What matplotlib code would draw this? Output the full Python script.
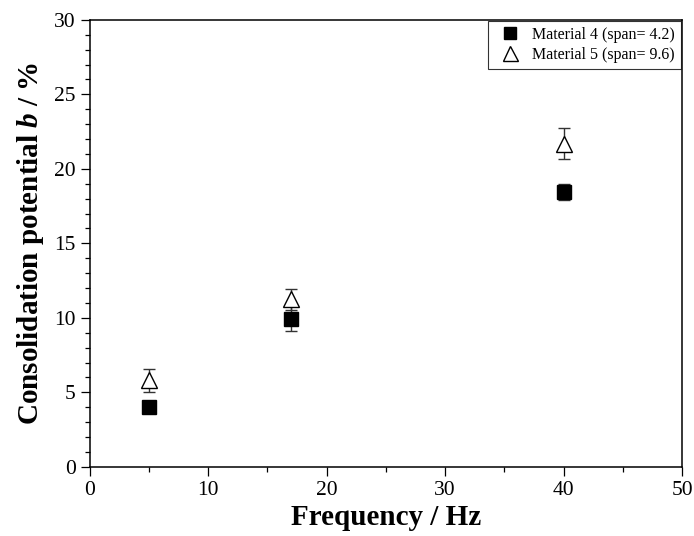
import numpy as np
import matplotlib.pyplot as plt
from matplotlib.ticker import MultipleLocator

plt.rcParams['font.family'] = ['Liberation Serif', 'DejaVu Serif']
plt.rcParams['mathtext.fontset'] = 'custom'
plt.rcParams['mathtext.it'] = 'Liberation Serif:italic:bold'
plt.rcParams['mathtext.rm'] = 'Liberation Serif:bold'

freq = [5, 17, 40]
mat4_b = [4.05, 9.95, 18.45]
mat4_err = [0.4, 0.85, 0.55]
mat5_b = [5.8, 11.25, 21.7]
mat5_err = [0.8, 0.7, 1.05]
labels = ['Material 4 (span= 4.2)', 'Material 5 (span= 9.6)']

fig = plt.figure(figsize=(6.94, 5.36), dpi=100)
ax = fig.add_axes([0.129, 0.129, 0.854, 0.834])

ax.errorbar(freq, mat4_b, yerr=mat4_err, fmt='s', color='k', ms=10,
            mfc='k', mec='k', ecolor='#333333', elinewidth=1, capsize=4,
            capthick=1, label=labels[0], zorder=3)
ax.errorbar(freq, mat5_b, yerr=mat5_err, fmt='^', color='k', ms=12,
            mfc='white', mec='k', mew=1, ecolor='#333333', elinewidth=1,
            capsize=4, capthick=1, label=labels[1], zorder=3)

ax.set_xlim(0, 50)
ax.set_ylim(0, 30)
ax.xaxis.set_major_locator(MultipleLocator(10))
ax.xaxis.set_minor_locator(MultipleLocator(5))
ax.yaxis.set_major_locator(MultipleLocator(5))
ax.yaxis.set_minor_locator(MultipleLocator(1))
ax.tick_params(which='both', direction='out', top=False, right=False,
               width=0.9, labelsize=15.5)
ax.tick_params(which='major', length=6.5)
ax.tick_params(which='minor', length=3.6)
for s in ax.spines.values():
    s.set_linewidth(1.1)

ax.set_xlabel('Frequency / Hz', fontsize=21, fontweight='bold', labelpad=3)
ax.set_ylabel(r'Consolidation potential $b$ / %', fontsize=21,
              fontweight='bold', labelpad=6)

handles, lbls = ax.get_legend_handles_labels()
handles = [h[0] for h in handles]
leg = ax.legend(handles, lbls, loc='upper right', fontsize=11.5,
                frameon=True, fancybox=False, edgecolor='k',
                borderaxespad=0.05, handletextpad=0.4, labelspacing=0.25,
                handlelength=2.0, borderpad=0.4, markerscale=0.9)
leg.get_frame().set_linewidth(0.8)

fig.savefig('out.png', dpi=100)
